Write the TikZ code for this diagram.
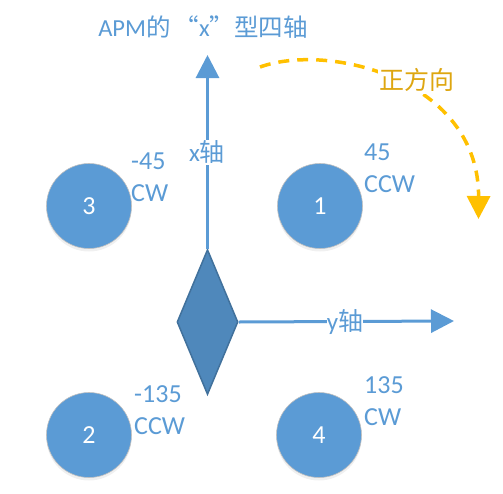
\documentclass[tikz,border=0pt]{standalone}
\usepackage{fontspec}
\setmainfont{Carlito}
\newfontfamily\cjk{Noto Sans CJK SC}
\usetikzlibrary{shapes.geometric,arrows.meta,shadows}
\definecolor{oblue}{RGB}{91,155,213}
\definecolor{dblue}{RGB}{79,136,187}
\definecolor{bdblue}{RGB}{65,113,156}
\definecolor{ogold}{RGB}{255,192,0}
\definecolor{tgold}{RGB}{222,166,16}
\tikzset{
  motor/.style={circle, minimum size=85pt, inner sep=0pt, fill=oblue, draw=black!25, line width=0.6pt,
    text=white, font=\fontsize{26}{30}\selectfont,
    drop shadow={opacity=0.12, shadow xshift=0pt, shadow yshift=-3pt}},
  lbl/.style={text=oblue, font=\fontsize{26}{32}\selectfont, inner sep=0pt, align=left, anchor=west},
  axis/.style={draw=oblue, line width=3pt, -{Triangle[length=23pt,width=23pt]}},
  axlbl/.style={text=oblue, font=\fontsize{25}{30}\selectfont, fill=white, inner sep=1pt},
}
\begin{document}
\begin{tikzpicture}[x=1pt,y=-1pt]
\useasboundingbox (0,0) rectangle (503,493);
% title
\node[text=oblue, font=\fontsize{24.5}{30}\selectfont, inner sep=0pt] (title) at (203,27)
  {APM{\cjk 的\,“}x{\cjk ”}{\cjk 型四轴}};
% motors
\node[motor] (m3) at (89,206) {3};
\node[motor] (m1) at (320,206) {1};
\node[motor] (m2) at (89,435) {2};
\node[motor] (m4) at (319,435) {4};
% motor labels
\node[lbl] (l3) at (131,177) {-45\\CW};
\node[lbl] (l1) at (364,168) {45\\CCW};
\node[lbl] (l2) at (134,410) {-135\\CCW};
\node[lbl] (l4) at (364,401) {135\\CW};
% frame diamond
\node[diamond, minimum width=61pt, minimum height=145pt, inner sep=0pt, fill=dblue, draw=bdblue, line width=1.5pt] (body) at (207.5,322) {};
% axes
\coordinate (xtip) at (207.5,55);
\coordinate (ytip) at (454,321);
\draw[axis] (body.north) -- (xtip);
\draw[axis] (body.east) -- (ytip);
\node[axlbl] (xl) at (207,152) {x{\cjk 轴}};
\node[axlbl, inner sep=0pt] (yl) at (345,322) {y{\cjk 轴}};
% positive direction
\coordinate (rs) at (260,67);
\coordinate (re) at (478.5,219);
\draw[draw=ogold, line width=3.5pt, dash pattern=on 11pt off 8pt, -{Triangle[length=23pt,width=23pt]}]
  (rs) .. controls (330,42) and (479,80) .. (re);
\node[text=tgold, fill=white, inner sep=2pt, font=\fontsize{25}{30}\selectfont\cjk] (dir) at (417,80) {正方向};
\end{tikzpicture}
\end{document}
